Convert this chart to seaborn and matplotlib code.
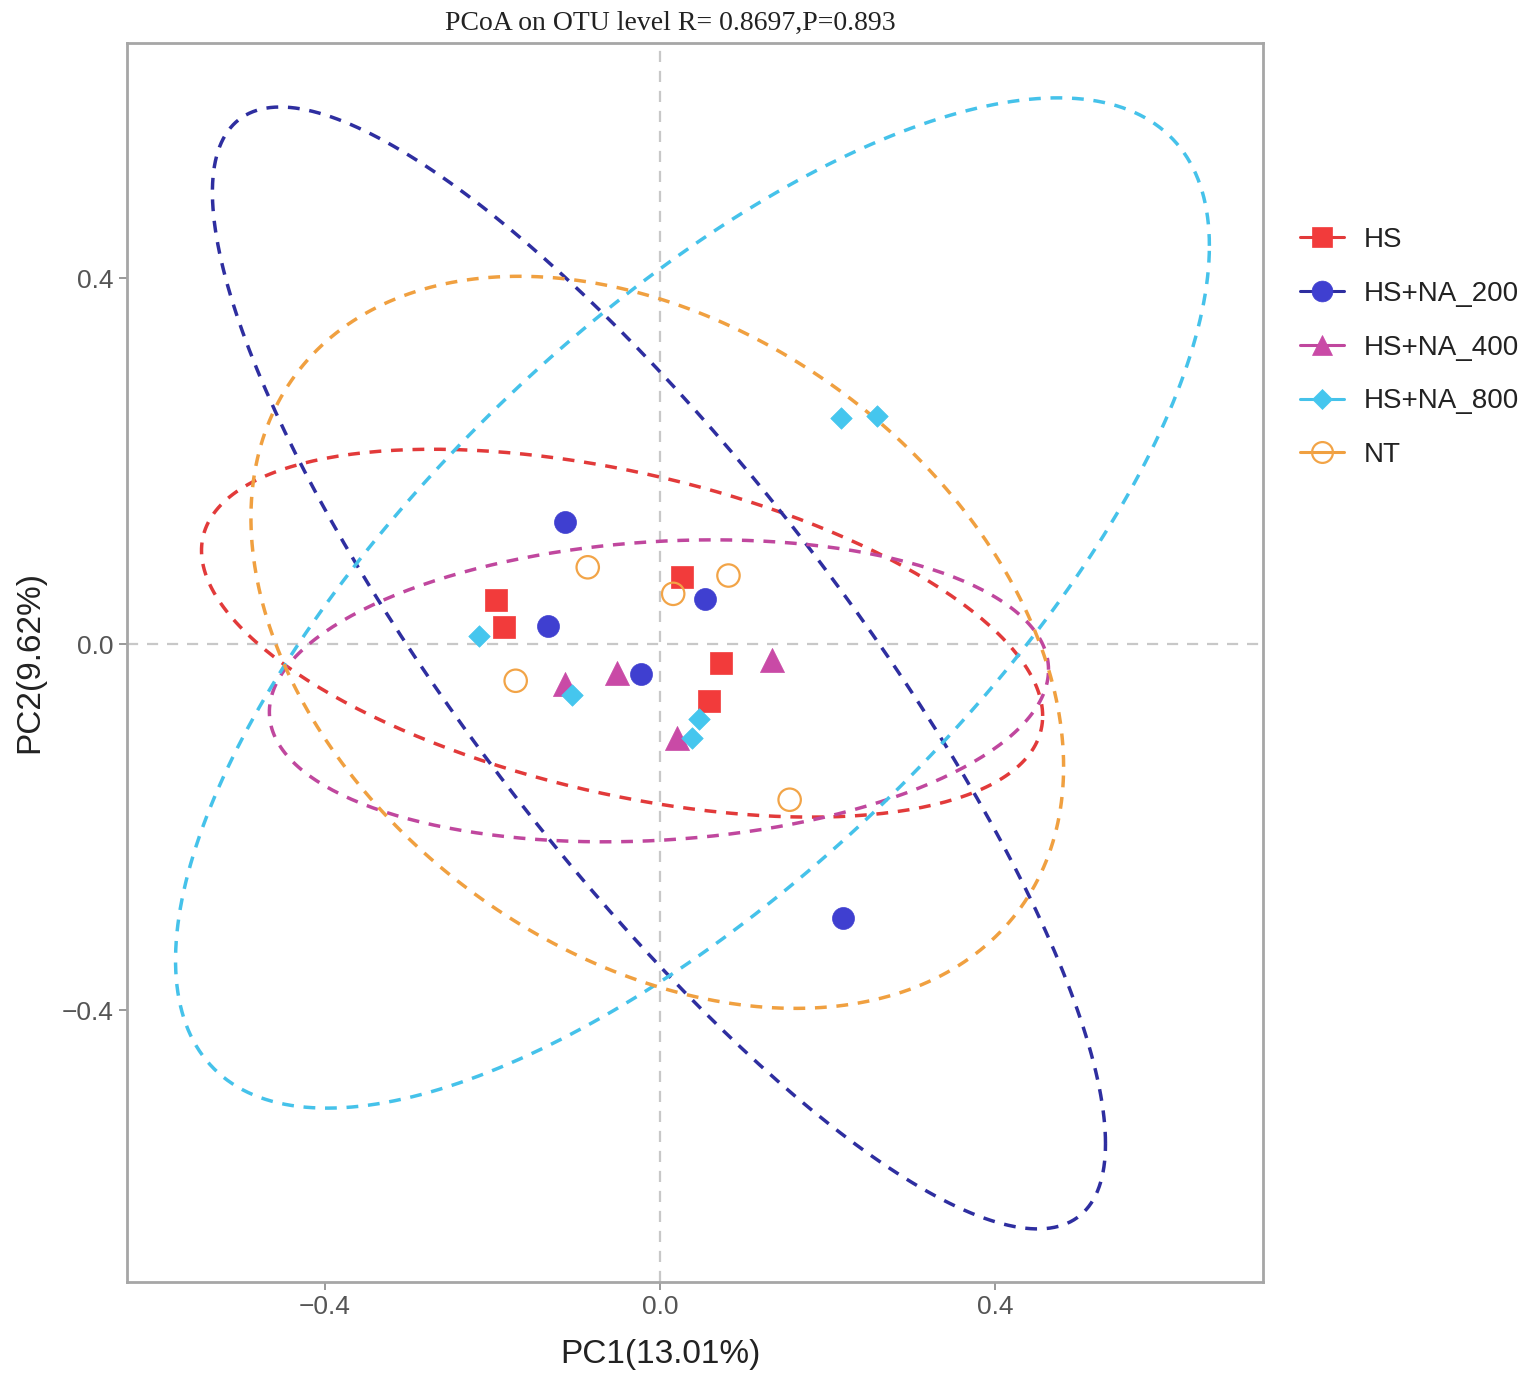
import numpy as np
import pandas as pd
import matplotlib
matplotlib.use('Agg')
from matplotlib import pyplot as plt
from matplotlib.lines import Line2D
import seaborn as sns

# groups and colours
groups = ['HS', 'HS+NA_200', 'HS+NA_400', 'HS+NA_800', 'NT']
point_colors = ['#F23B3B', '#3F3FD0', '#C94AA6', '#45C6EE', '#F2A447']
line_colors = ['#E23A3A', '#2E2EA0', '#C0479E', '#45C2EA', '#F0A040']
markers = ['s', 'o', '^', 'D', 'o']

# sample coordinates (PC1, PC2)
hs_x = [-0.195, -0.186, 0.027, 0.073, 0.059]
hs_y = [0.048, 0.019, 0.073, -0.021, -0.062]
na200_x = [-0.113, -0.134, -0.023, 0.054, 0.219]
na200_y = [0.133, 0.020, -0.033, 0.049, -0.299]
na400_x = [-0.113, -0.051, 0.021, 0.134]
na400_y = [-0.043, -0.031, -0.103, -0.017]
na800_x = [-0.216, -0.105, 0.047, 0.039, 0.216, 0.259]
na800_y = [0.009, -0.056, -0.082, -0.102, 0.247, 0.249]
nt_x = [-0.086, -0.172, 0.016, 0.082, 0.155]
nt_y = [0.084, -0.040, 0.055, 0.075, -0.170]

# confidence ellipses: centre, half width, half height, correlation
ell_cx = [-0.045, -0.001, -0.001, 0.039, -0.003]
ell_cy = [0.012, -0.026, -0.051, 0.045, 0.002]
ell_hx = [0.502, 0.533, 0.465, 0.617, 0.485]
ell_hy = [0.201, 0.613, 0.165, 0.552, 0.400]
ell_r = [-0.45, -0.848, 0.14, 0.707, -0.34]

xs = [hs_x, na200_x, na400_x, na800_x, nt_x]
ys = [hs_y, na200_y, na400_y, na800_y, nt_y]
df = pd.concat([pd.DataFrame({'PC1': x, 'PC2': y, 'group': g})
                for x, y, g in zip(xs, ys, groups)], ignore_index=True)

sns.set_style('white')
plt.rcParams['font.family'] = ['Liberation Sans', 'DejaVu Sans']

fig = plt.figure(figsize=(15.35, 13.81), dpi=100)
ax = fig.add_axes([0.0827, 0.0717, 0.7401, 0.8972])

ax.axhline(0, color='#C8C8C8', lw=1.6, ls=(0, (5, 4)), zorder=1)
ax.axvline(0, color='#C8C8C8', lw=1.6, ls=(0, (5, 4)), zorder=1)

t = np.linspace(0, 2 * np.pi, 300)
for i in range(len(groups)):
    ex = ell_cx[i] + ell_hx[i] * np.cos(t)
    ey = ell_cy[i] + ell_hy[i] * (ell_r[i] * np.cos(t) + np.sqrt(1 - ell_r[i] ** 2) * np.sin(t))
    ax.plot(ex, ey, color=line_colors[i], lw=2.5, ls=(0, (3.4, 2.8)), zorder=2)

sizes = [230, 250, 300, 120, 260]
for i, g in enumerate(groups):
    sub = df[df['group'] == g]
    if g == 'NT':
        sns.scatterplot(data=sub, x='PC1', y='PC2', color=point_colors[i], marker=markers[i],
                        s=sizes[i], facecolor='none', edgecolor=point_colors[i], linewidth=1.6,
                        ax=ax, zorder=3, legend=False)
    else:
        sns.scatterplot(data=sub, x='PC1', y='PC2', color=point_colors[i], marker=markers[i],
                        s=sizes[i], edgecolor=point_colors[i], linewidth=0.5,
                        ax=ax, zorder=3, legend=False)

ax.set_xlim(-0.636, 0.720)
ax.set_ylim(-0.697, 0.657)
ax.set_xticks([-0.4, 0.0, 0.4])
ax.set_yticks([-0.4, 0.0, 0.4])
ax.set_xticklabels(['\u22120.4', '0.0', '0.4'])
ax.set_yticklabels(['\u22120.4', '0.0', '0.4'])
ax.tick_params(axis='both', labelsize=19, labelcolor='#555555', color='#888888',
               length=6, width=1.2, direction='out', bottom=True, left=True)
for sp in ax.spines.values():
    sp.set_color('#A6A6A6')
    sp.set_linewidth(2)

ax.set_xlabel('PC1(13.01%)', fontsize=24, color='#222222')
ax.set_ylabel('PC2(9.62%)', fontsize=24, color='#222222')
ax.xaxis.set_label_coords(0.470, -0.046)
ax.yaxis.set_label_coords(-0.072, 0.50)

fig.text(0.437, 0.983, 'PCoA on OTU level R= 0.8697,P=0.893', ha='center', va='center',
         fontsize=20, family=['Liberation Serif', 'DejaVu Serif'], color='#222222')

handles = []
for i, g in enumerate(groups):
    fc = 'none' if g == 'NT' else point_colors[i]
    handles.append(Line2D([0], [0], color=line_colors[i], lw=2.2, marker=markers[i],
                          markersize=15 if markers[i] != 'D' else 10,
                          markerfacecolor=fc, markeredgecolor=point_colors[i],
                          markeredgewidth=1.6 if g == 'NT' else 0.5))
leg = fig.legend(handles, groups, loc='upper left', bbox_to_anchor=(0.8306, 0.8537),
                 frameon=False, fontsize=20, handlelength=1.6, handletextpad=0.7,
                 labelspacing=1.0)
for txt in leg.get_texts():
    txt.set_color('#222222')

fig.savefig('out.png', dpi=100)
